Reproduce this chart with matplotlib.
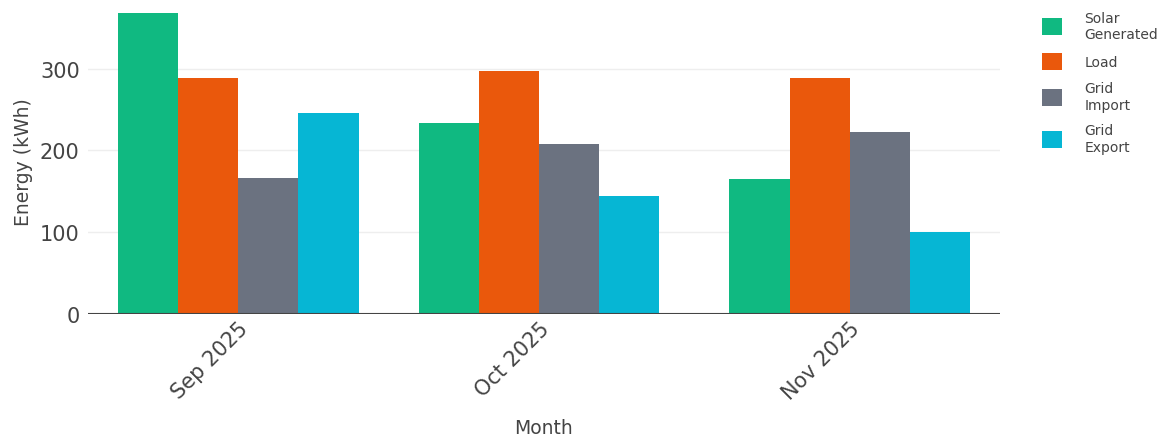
#!/usr/bin/env python3
"""Monthly energy summary: solar, load, grid import/export (grouped bars)."""
from datetime import datetime, timedelta
import matplotlib
matplotlib.use("Agg")
import matplotlib.pyplot as plt
import matplotlib.dates as mdates
from matplotlib.patches import Patch

months = [datetime(2025, 9, 1), datetime(2025, 10, 1), datetime(2025, 11, 1)]
month_labels = ["Sep 2025", "Oct 2025", "Nov 2025"]
series_names = ["Solar\nGenerated", "Load", "Grid\nImport", "Grid\nExport"]
solar = [368, 234, 165]
load = [289, 297, 289]
grid_import = [166, 208, 223]
grid_export = [246, 144, 100]
series = [solar, load, grid_import, grid_export]
colors = ["#10b981", "#ea580c", "#6b7280", "#06b6d4"]

TXT = "#444444"
W, H = 1158, 439
fig = plt.figure(figsize=(W / 100, H / 100), dpi=100)
ax = fig.add_axes([88 / W, 1 - 315 / H, 912 / W, (315 - 9) / H])

bar_w = 6  # days
offsets = [-9, -3, 3, 9]
x = mdates.date2num(months)
for vals, off, col in zip(series, offsets, colors):
    ax.bar(x + off, vals, width=bar_w, color=col, linewidth=0, zorder=2)

ax.set_xlim(mdates.date2num(months[0] - timedelta(days=15)),
            mdates.date2num(months[-1] + timedelta(days=15)))
ax.set_ylim(0, 374)
ax.set_yticks([0, 100, 200, 300])
ax.set_xticks(x)
ax.set_xticklabels(month_labels, rotation=45, ha="right", va="top",
                   rotation_mode="anchor")

ax.grid(axis="y", color="#eeeeee", lw=1, zorder=0)
ax.axhline(0, color=TXT, lw=1.5, zorder=3)
for s in ax.spines.values():
    s.set_visible(False)
ax.tick_params(axis="both", length=0, labelsize=15, labelcolor=TXT)
ax.tick_params(axis="x", pad=3)
ax.tick_params(axis="y", pad=6)

ax.set_xlabel("Month", fontsize=13.5, color=TXT, labelpad=11)
ax.set_ylabel("Energy (kWh)", fontsize=13.5, color=TXT, labelpad=5)

handles = [Patch(facecolor=c, edgecolor="none") for c in colors]
fig.legend(handles, series_names, loc="upper left",
           bbox_to_anchor=(1036 / W, 1 - 6 / H), frameon=False,
           fontsize=10, labelcolor=TXT, handlelength=1.5, handleheight=1.5,
           handletextpad=1.6, labelspacing=0.85, borderaxespad=0)

fig.savefig("out.png", dpi=100)
